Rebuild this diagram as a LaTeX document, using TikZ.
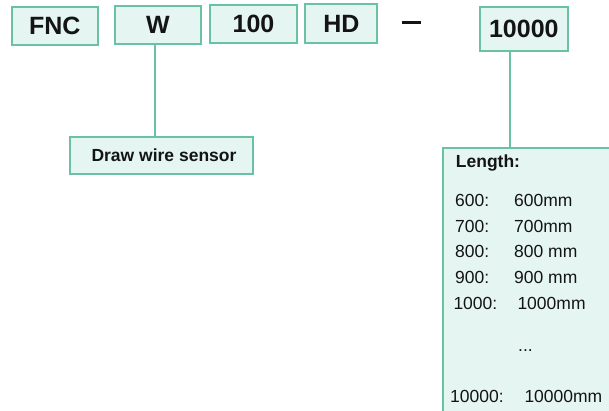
\documentclass[tikz,border=0pt]{standalone}
\usepackage{fontspec}
\setmainfont{Liberation Sans}
\usetikzlibrary{calc}
\definecolor{bd}{RGB}{104,194,163}
\definecolor{bg}{RGB}{229,245,242}
\definecolor{tx}{RGB}{20,20,20}
\begin{document}
\begin{tikzpicture}[x=1pt,y=-1pt,
  box/.style={draw=bd,fill=bg,line width=2pt,inner sep=0pt,text=tx,
    font=\fontsize{25}{30}\selectfont\bfseries},
  smallbox/.style={box,font=\fontsize{17.5}{21}\selectfont\bfseries},
  conn/.style={draw=bd,line width=2pt},
  lbl/.style={anchor=base west,inner sep=0pt,text=tx,font=\fontsize{17.5}{21}\selectfont}]
\clip (0,0) rectangle (609,411);
% top code boxes
\node[box,minimum width=86pt,minimum height=37.7pt] (fnc) at (54.7,26.2) {FNC};
\node[box,minimum width=86pt,minimum height=38pt] (w) at (158,24.7) {W};
\node[box,minimum width=87pt,minimum height=38.3pt] (n100) at (253.5,24.2) {100};
\node[box,minimum width=72pt,minimum height=38.4pt] (hd) at (341.3,23.5) {HD};
\node[box,minimum width=87.7pt,minimum height=44pt] (n10000) at (523.8,28.7) {10000};
% dash
\draw[tx,line width=3pt] (401.7,22.3) -- (421,22.3);
% draw wire sensor box
\node[smallbox,minimum width=183pt,minimum height=37.3pt] (dw) at (161.5,155.3) {\hspace*{5pt}Draw wire sensor};
% length box
\node[box,anchor=north west,minimum width=180pt,minimum height=280pt] (len) at (442.3,147.3) {};
% connectors
\draw[conn] ([xshift=-3.5pt]w.south) -- ([xshift=-3.5pt]w.south |- dw.north);
\draw[conn] ([xshift=-13.8pt]n10000.south) -- ([xshift=-13.8pt]n10000.south |- len.north);
% length contents
\node[lbl,font=\fontsize{17.5}{21}\selectfont\bfseries] (lt) at (455.7,168) {Length:};
\node[lbl] (k1) at (455,207) {600:};  \node[lbl] (v1) at (514,207) {600mm};
\node[lbl] (k2) at (455,233) {700:};  \node[lbl] (v2) at (514,233) {700mm};
\node[lbl] (k3) at (455,258) {800:};  \node[lbl] (v3) at (514,258) {800 mm};
\node[lbl] (k4) at (455,283) {900:};  \node[lbl] (v4) at (514,283) {900 mm};
\node[lbl] (k5) at (453.3,309) {1000:}; \node[lbl] (v5) at (517.3,309) {1000mm};
\node[lbl] (dots) at (518,351) {...};
\node[lbl] (k6) at (450,402) {10000:}; \node[lbl] (v6) at (524.3,402) {10000mm};
\end{tikzpicture}
\end{document}
